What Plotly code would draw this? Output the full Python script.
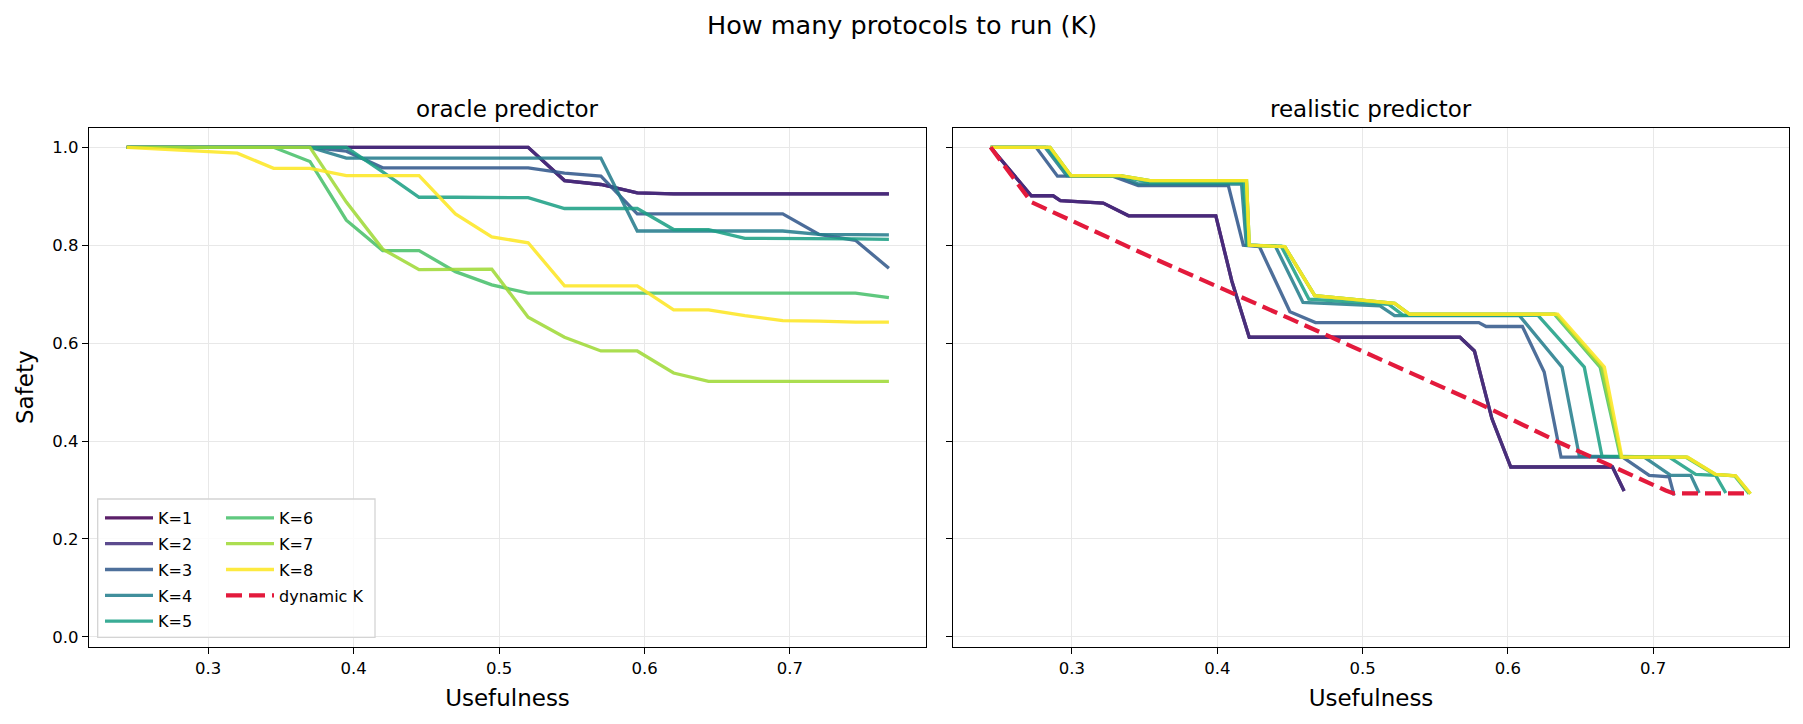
import plotly.graph_objects as go

W, H = 1803, 724

# ---- data ----
k_labels = ['K=1', 'K=2', 'K=3', 'K=4', 'K=5', 'K=6', 'K=7', 'K=8']
k_colors = ['#440154', '#46327e', '#365c8d', '#277f8e', '#1fa187', '#4ac16d', '#a0da39', '#fde725']

# oracle predictor: every K evaluated on the same usefulness grid
oracle_x = [0.244, 0.270, 0.295, 0.320, 0.345, 0.370, 0.395, 0.420, 0.445, 0.470, 0.495,
            0.520, 0.545, 0.570, 0.595, 0.620, 0.644, 0.669, 0.695, 0.720, 0.745, 0.768]
oracle_k1 = [1, 1, 1, 1, 1, 1, 1, 1, 1, 1, 1, 1, 0.932, 0.924, 0.907, 0.905, 0.905, 0.905, 0.905, 0.905, 0.905, 0.905]
oracle_k2 = [1, 1, 1, 1, 1, 1, 1, 1, 1, 1, 1, 1, 0.932, 0.924, 0.907, 0.905, 0.905, 0.905, 0.905, 0.905, 0.905, 0.905]
oracle_k3 = [1, 1, 1, 1, 1, 1, 0.992, 0.958, 0.958, 0.958, 0.958, 0.958, 0.947, 0.941, 0.864, 0.864, 0.864, 0.864, 0.864, 0.822, 0.810, 0.753]
oracle_k4 = [1, 1, 1, 1, 1, 1, 0.978, 0.978, 0.978, 0.978, 0.978, 0.978, 0.978, 0.978, 0.829, 0.829, 0.829, 0.829, 0.829, 0.822, 0.821, 0.821]
oracle_k5 = [1, 1, 1, 1, 1, 1, 1, 0.950, 0.898, 0.898, 0.898, 0.897, 0.875, 0.875, 0.875, 0.832, 0.832, 0.814, 0.814, 0.814, 0.813, 0.812]
oracle_k6 = [1, 1, 1, 1, 1, 0.971, 0.851, 0.789, 0.789, 0.746, 0.719, 0.702, 0.702, 0.702, 0.702, 0.702, 0.702, 0.702, 0.702, 0.702, 0.702, 0.693]
oracle_k7 = [1, 1, 1, 1, 1, 1, 0.888, 0.792, 0.750, 0.750, 0.751, 0.653, 0.612, 0.584, 0.584, 0.539, 0.522, 0.522, 0.522, 0.522, 0.522, 0.522]
oracle_k8 = [1, 0.996, 0.992, 0.988, 0.957, 0.957, 0.942, 0.942, 0.942, 0.864, 0.817, 0.805, 0.717, 0.717, 0.717, 0.668, 0.668, 0.656, 0.646, 0.645, 0.643, 0.643]

# realistic predictor: each K has its own usefulness points
real_k1_x = [0.244, 0.272, 0.287, 0.292, 0.3215, 0.339, 0.399, 0.410, 0.422, 0.567, 0.577, 0.589, 0.602, 0.672, 0.680]
real_k1_y = [1.0, 0.901, 0.901, 0.891, 0.886, 0.860, 0.860, 0.727, 0.612, 0.612, 0.584, 0.446, 0.347, 0.347, 0.298]
real_k2_x = [0.244, 0.272, 0.287, 0.292, 0.3215, 0.339, 0.399, 0.410, 0.422, 0.567, 0.577, 0.589, 0.602, 0.672, 0.680]
real_k2_y = [1.0, 0.901, 0.901, 0.891, 0.886, 0.860, 0.860, 0.727, 0.612, 0.612, 0.584, 0.446, 0.347, 0.347, 0.298]
real_k3_x = [0.244, 0.2753, 0.290, 0.328, 0.3456, 0.4076, 0.4179, 0.429, 0.450, 0.4676, 0.580, 0.585,
             0.610, 0.625, 0.6366, 0.679, 0.6973, 0.711, 0.7144]
real_k3_y = [1.0, 1.0, 0.941, 0.941, 0.922, 0.922, 0.800, 0.797, 0.664, 0.642, 0.642, 0.634,
             0.634, 0.541, 0.367, 0.367, 0.330, 0.327, 0.289]
real_k4_x = [0.244, 0.2814, 0.2963, 0.333, 0.3456, 0.4167, 0.420, 0.440, 0.459, 0.512, 0.522, 0.608,
             0.6373, 0.6492, 0.6938, 0.7121, 0.7259, 0.7316]
real_k4_y = [1.0, 1.0, 0.942, 0.941, 0.925, 0.925, 0.800, 0.798, 0.683, 0.676, 0.656, 0.656,
             0.551, 0.369, 0.367, 0.330, 0.330, 0.294]
real_k5_x = [0.244, 0.283, 0.298, 0.334, 0.3536, 0.418, 0.421, 0.444, 0.463, 0.518, 0.528, 0.6206,
             0.6526, 0.6648, 0.711, 0.7293, 0.743, 0.750]
real_k5_y = [1.0, 1.0, 0.942, 0.941, 0.928, 0.928, 0.800, 0.798, 0.690, 0.679, 0.657, 0.657,
             0.551, 0.369, 0.367, 0.332, 0.330, 0.294]
real_k6_x = [0.244, 0.2849, 0.2993, 0.333, 0.3536, 0.4201, 0.422, 0.4465, 0.4671, 0.5221, 0.5324, 0.632,
             0.6635, 0.6775, 0.7226, 0.742, 0.756, 0.766]
real_k6_y = [1.0, 1.0, 0.942, 0.942, 0.932, 0.932, 0.800, 0.797, 0.697, 0.681, 0.659, 0.659,
             0.551, 0.367, 0.367, 0.332, 0.329, 0.2925]
real_k7_x = [0.244, 0.2849, 0.2993, 0.333, 0.3536, 0.4201, 0.422, 0.4465, 0.4671, 0.5221, 0.5324, 0.633,
             0.6645, 0.678, 0.7236, 0.743, 0.7568, 0.767]
real_k7_y = [1.0, 1.0, 0.942, 0.942, 0.932, 0.932, 0.800, 0.797, 0.697, 0.681, 0.659, 0.659,
             0.551, 0.367, 0.367, 0.332, 0.329, 0.2925]
real_k8_x = [0.244, 0.2849, 0.2993, 0.333, 0.3536, 0.4201, 0.422, 0.4465, 0.4671, 0.5221, 0.5324, 0.6343,
             0.6664, 0.6785, 0.7236, 0.743, 0.7568, 0.767]
real_k8_y = [1.0, 1.0, 0.942, 0.942, 0.932, 0.932, 0.800, 0.797, 0.697, 0.681, 0.659, 0.659,
             0.551, 0.367, 0.367, 0.332, 0.329, 0.2925]

dyn_x = [0.244, 0.272, 0.354, 0.450, 0.5805, 0.6355, 0.7087, 0.714, 0.765]
dyn_y = [1.0, 0.888, 0.776, 0.650, 0.476, 0.397, 0.299, 0.293, 0.293]

oracle_ys = [oracle_k1, oracle_k2, oracle_k3, oracle_k4, oracle_k5, oracle_k6, oracle_k7, oracle_k8]
real_xs = [real_k1_x, real_k2_x, real_k3_x, real_k4_x, real_k5_x, real_k6_x, real_k7_x, real_k8_x]
real_ys = [real_k1_y, real_k2_y, real_k3_y, real_k4_y, real_k5_y, real_k6_y, real_k7_y, real_k8_y]

FONT = 'DejaVu Sans'

fig = go.Figure()

for i, lab in enumerate(k_labels):
    leg = 'legend' if i < 5 else 'legend2'
    fig.add_trace(go.Scatter(
        x=oracle_x, y=oracle_ys[i], mode='lines', name=lab,
        line=dict(color=k_colors[i], width=3.3), opacity=0.88,
        xaxis='x', yaxis='y', legend=leg, legendgroup=lab,
    ))

for i, lab in enumerate(k_labels):
    fig.add_trace(go.Scatter(
        x=real_xs[i], y=real_ys[i], mode='lines', name=lab,
        line=dict(color=k_colors[i], width=3.3), opacity=0.88,
        xaxis='x2', yaxis='y2', showlegend=False, legendgroup=lab,
    ))

fig.add_trace(go.Scatter(
    x=dyn_x, y=dyn_y, mode='lines', name='dynamic K',
    line=dict(color='#e31a3c', width=4.2, dash='16px,7px'),
    xaxis='x2', yaxis='y2', legend='legend2', legendgroup='dyn',
))

axis_common = dict(
    showline=True, mirror=True, linecolor='black', linewidth=1.3,
    ticks='outside', ticklen=6, tickwidth=1.3, tickcolor='black',
    showgrid=True, gridcolor='#e8e8e8', gridwidth=1.3, zeroline=False,
    tickfont=dict(family=FONT, size=16.5, color='black'), automargin=False,
)

y0 = 1 - 646.7 / H
y1 = 1 - 127.7 / H
LABEL = 23

fig.update_layout(
    template='none',
    width=W, height=H,
    margin=dict(l=0, r=0, t=0, b=0),
    paper_bgcolor='white', plot_bgcolor='white',
    font=dict(family=FONT, color='black'),
    xaxis=dict(axis_common, domain=[89 / W, 926 / W], range=[0.2181, 0.7935],
               tickvals=[0.3, 0.4, 0.5, 0.6, 0.7], tickformat='.1f', anchor='y',
               title=dict(text='Usefulness', font=dict(size=LABEL), standoff=13)),
    xaxis2=dict(axis_common, domain=[953 / W, 1789 / W], range=[0.2181, 0.7935],
                tickvals=[0.3, 0.4, 0.5, 0.6, 0.7], tickformat='.1f', anchor='y2',
                title=dict(text='Usefulness', font=dict(size=LABEL), standoff=13)),
    yaxis=dict(axis_common, domain=[y0, y1], range=[-0.02, 1.04],
               tickvals=[0, 0.2, 0.4, 0.6, 0.8, 1.0], tickformat='.1f', anchor='x',
               title=dict(text='Safety', font=dict(size=LABEL), standoff=12)),
    yaxis2=dict(axis_common, domain=[y0, y1], range=[-0.02, 1.04],
                tickvals=[0, 0.2, 0.4, 0.6, 0.8, 1.0], showticklabels=False, anchor='x2'),
    legend=dict(x=100 / W, y=1 - 501 / H, xanchor='left', yanchor='top',
                bgcolor='rgba(0,0,0,0)', borderwidth=0, traceorder='grouped',
                tracegroupgap=2, itemwidth=48, font=dict(family=FONT, size=16)),
    legend2=dict(x=221 / W, y=1 - 501 / H, xanchor='left', yanchor='top',
                 bgcolor='rgba(0,0,0,0)', borderwidth=0, traceorder='grouped',
                 tracegroupgap=2, itemwidth=48, font=dict(family=FONT, size=16)),
    shapes=[dict(type='rect', xref='paper', yref='paper',
                 x0=97.7 / W, x1=375 / W, y0=1 - 637.3 / H, y1=1 - 499 / H,
                 line=dict(color='#d4d4d4', width=1.3), fillcolor='rgba(255,255,255,0.8)',
                 layer='above')],
    annotations=[
        dict(text='How many protocols to run (K)', x=0.5, y=1 - 25 / H, xref='paper', yref='paper',
             showarrow=False, xanchor='center', yanchor='middle', font=dict(size=25.5)),
        dict(text='oracle predictor', x=(89 + 926) / 2 / W, y=1 - 109 / H, xref='paper', yref='paper',
             showarrow=False, xanchor='center', yanchor='middle', font=dict(size=LABEL)),
        dict(text='realistic predictor', x=(953 + 1789) / 2 / W, y=1 - 109 / H, xref='paper', yref='paper',
             showarrow=False, xanchor='center', yanchor='middle', font=dict(size=LABEL)),
    ],
)

fig.write_html("out.html", config={'displayModeBar': False},
               post_script="document.body.style.margin='0px';")
